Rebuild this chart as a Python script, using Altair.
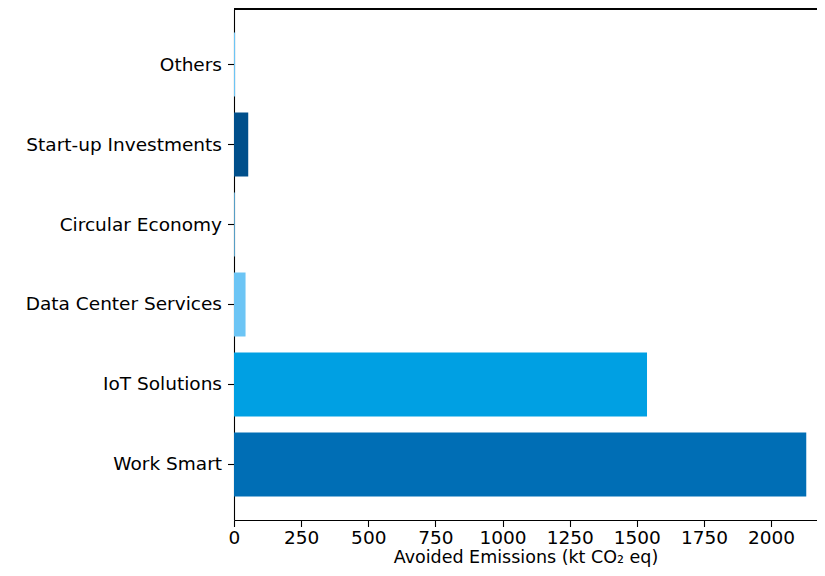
import altair as alt
import pandas as pd

categories = ["Work Smart", "IoT Solutions", "Data Center Services",
              "Circular Economy", "Start-up Investments", "Others"]
values = [2131, 1538, 43, 3, 53, 4]
colors = ["#006EB5", "#00A0E3", "#6CC5F5", "#6CC5F5", "#004F8B", "#6CC5F5"]
x_ticks = [0, 250, 500, 750, 1000, 1250, 1500, 1750, 2000]

df = pd.DataFrame({"category": categories, "value": values, "color": colors})

W, H = 583, 511
FONT = "DejaVu Sans"
FS = 18.5

bars = alt.Chart(df).mark_bar().encode(
    y=alt.Y("category:N", sort=categories[::-1],
            scale=alt.Scale(paddingInner=0.2, paddingOuter=0.294),
            axis=alt.Axis(title=None, labelFont=FONT, labelFontSize=FS,
                          labelLimit=400,
                          labelColor="#000000", tickColor="#000000",
                          domainColor="#000000", tickSize=6.5, labelPadding=6,
                          domainWidth=1.1, tickWidth=1.1)),
    x=alt.X("value:Q", scale=alt.Scale(domain=[0, 2171], nice=False),
            axis=alt.Axis(title="Avoided Emissions (kt CO₂ eq)", values=x_ticks,
                          format="d", grid=False, labelFont=FONT, labelFontSize=FS,
                          titleFont=FONT, titleFontSize=17.5, titleFontWeight="normal",
                          titleColor="#000000", labelColor="#000000",
                          tickColor="#000000", domainColor="#000000", tickSize=6.5,
                          labelPadding=2, titlePadding=1, domainWidth=1.1,
                          tickWidth=1.1, labelFlush=False)),
    color=alt.Color("color:N", scale=None),
)

top = alt.Chart(df).mark_rule(color="#000000", strokeWidth=1.1).encode(
    x=alt.value(0), x2=alt.value(W), y=alt.value(0)
)

chart = alt.layer(bars, top).properties(
    width=W, height=H,
    autosize=alt.AutoSizeParams(type="none"),
    padding={"left": 226, "top": 1, "right": 0, "bottom": 48},
).configure_view(stroke=None).configure(background="white")

chart.save("out.html", embed_options={"renderer": "svg", "actions": False})
